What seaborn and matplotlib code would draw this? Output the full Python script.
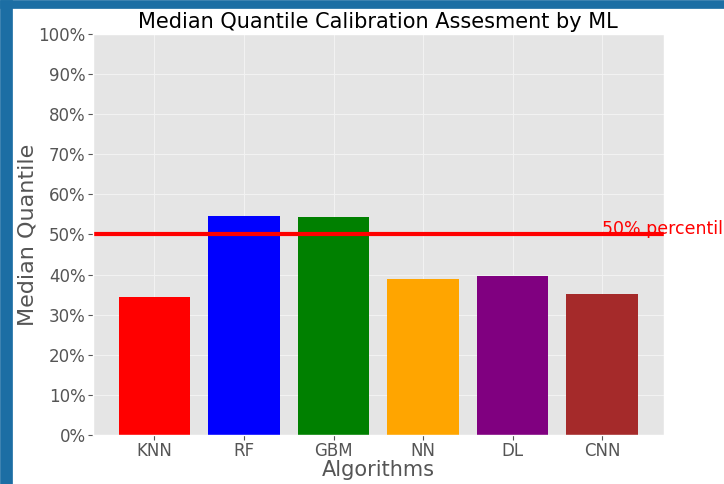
import matplotlib
matplotlib.use("Agg")
import matplotlib.pyplot as plt
import matplotlib.ticker as mtick
from matplotlib.patches import Rectangle
import seaborn as sns
import pandas as pd

algorithms = ['KNN', 'RF', 'GBM', 'NN', 'DL', 'CNN']
median_quantile = [0.344, 0.546, 0.544, 0.389, 0.397, 0.352]
bar_colors = ['red', 'blue', 'green', 'orange', 'purple', 'brown']

df = pd.DataFrame({'algorithm': algorithms, 'median_quantile': median_quantile})

plt.style.use('ggplot')
fig = plt.figure(figsize=(7.24, 4.84), dpi=100)
ax = fig.add_axes([0.128, 0.101, 0.789, 0.829])

sns.barplot(data=df, x='algorithm', y='median_quantile', hue='algorithm',
            palette=bar_colors, width=0.8, saturation=1, legend=False, ax=ax)

# back to plain matplotlib limits / grid on the categorical axis
n = len(algorithms)
pad = 0.05 * (n - 1 + 0.8)
ax.set_xlim(-0.4 - pad, n - 1 + 0.4 + pad)
ax.set_ylim(0, 1)
ax.grid(True, color='#f2f2f2', linewidth=0.8)
ax.set_axisbelow(True)

ax.axhline(0.5, color='red', linewidth=3)
ax.text(n - 1, 0.5, '50% percentile', color='red', fontsize=12.5, clip_on=False)

ax.set_yticks([i / 10 for i in range(11)])
ax.yaxis.set_major_formatter(mtick.PercentFormatter(1, decimals=0))
ax.tick_params(labelsize=12, colors='#555555', pad=1.5)

ax.set_title("Median Quantile Calibration Assesment by ML", fontsize=15, color='black', pad=4)
ax.set_ylabel("Median Quantile", fontsize=16, color='#555555', labelpad=1)
ax.set_xlabel("Algorithms", fontsize=15, color='#555555', labelpad=0)

# blue screenshot frame on the left and top edges
frame = '#1c6ea4'
fig.patches.append(Rectangle((0, 0), 12 / 724, 1, transform=fig.transFigure, color=frame, zorder=10))
fig.patches.append(Rectangle((0, 1 - 8 / 484), 1, 8 / 484, transform=fig.transFigure, color=frame, zorder=10))

fig.savefig("out.png", dpi=100, facecolor='white')
plt.close()
